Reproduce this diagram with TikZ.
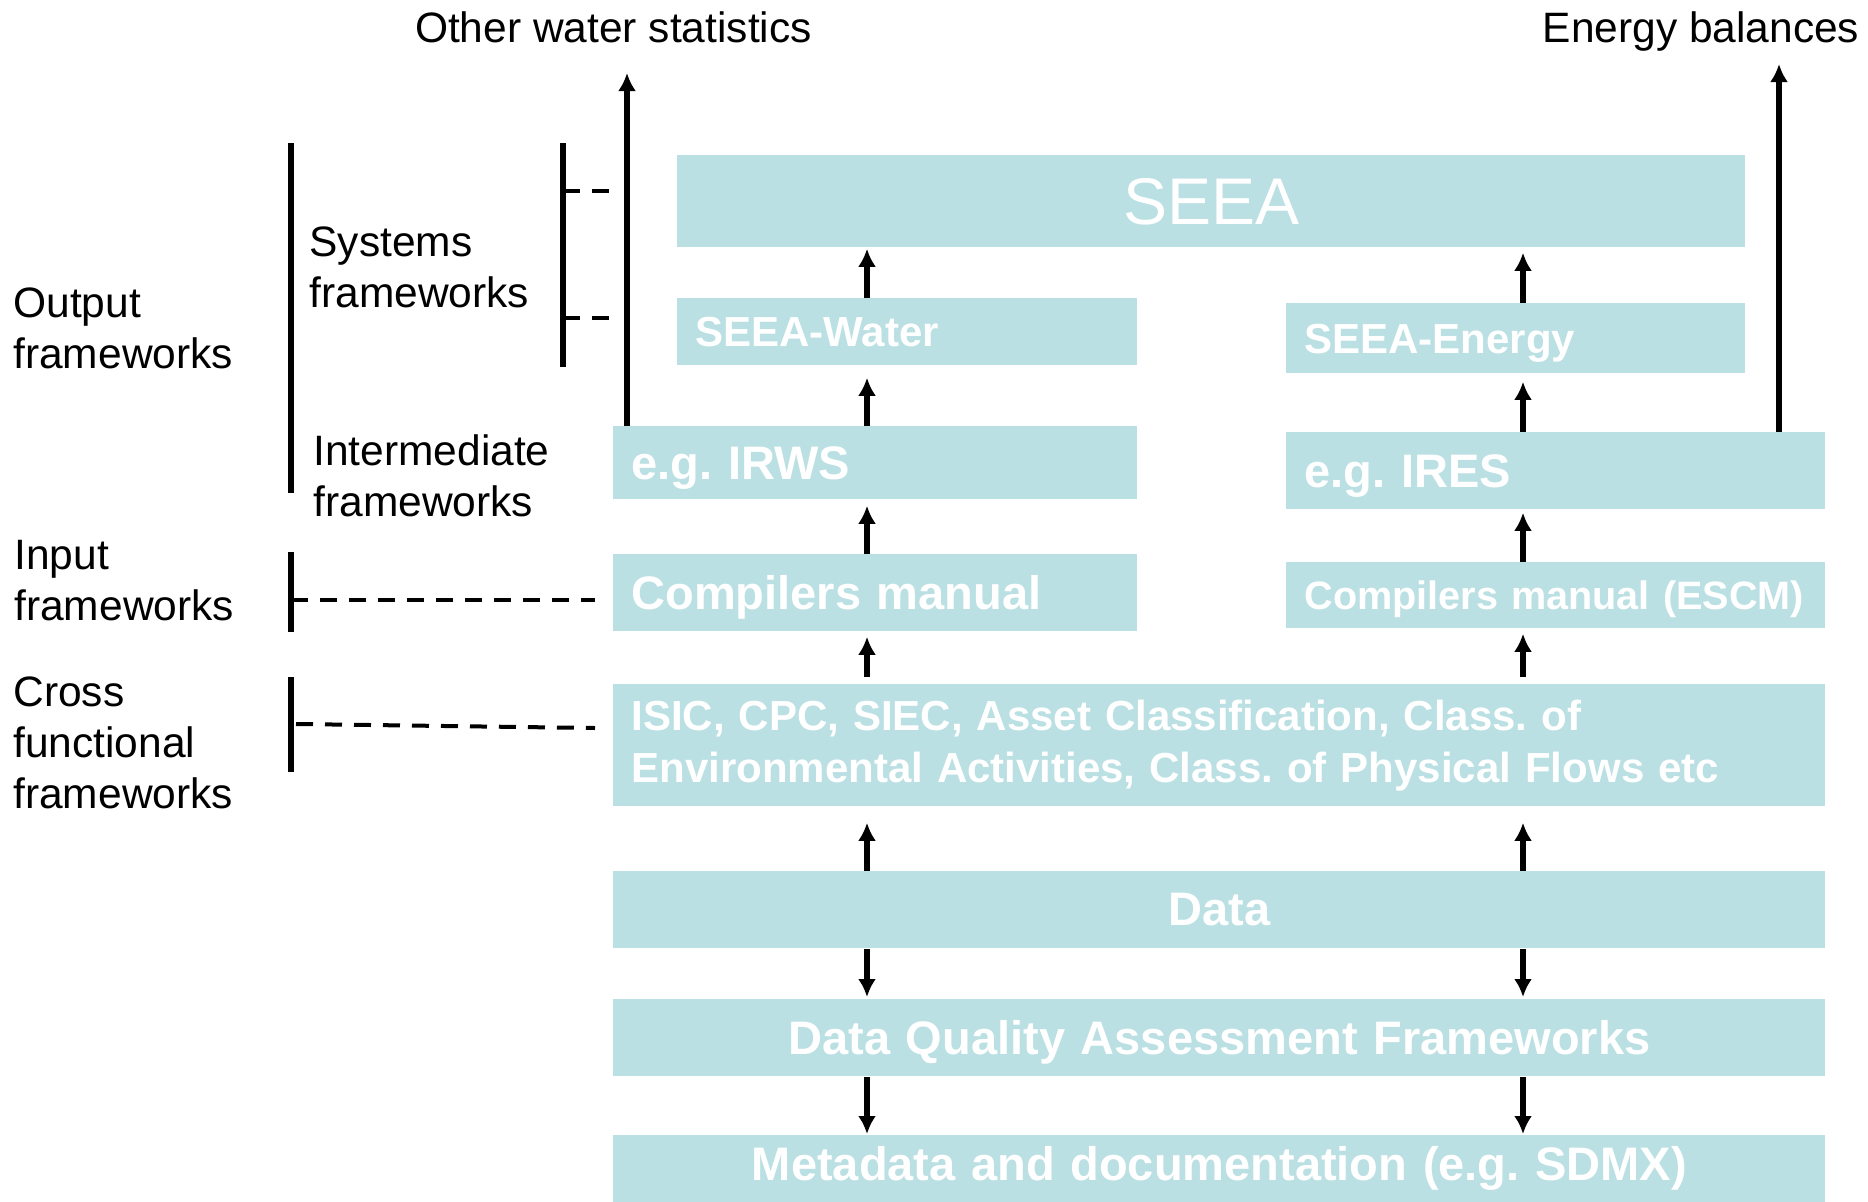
\documentclass[tikz,border=0pt]{standalone}
\usepackage{fontspec}
\setmainfont{Liberation Sans}
\frenchspacing
\usetikzlibrary{arrows.meta,calc}
\definecolor{boxteal}{RGB}{187,224,227}
\tikzset{
    fwbox/.style={fill=boxteal, text=white, inner xsep=9pt, inner ysep=0pt,
      anchor=north west, align=left, font=\bfseries\fontsize{23.5}{28}\selectfont},
    fwcap/.style={text depth=0pt},
    fwarrow/.style={line width=3pt, -{Latex[length=9pt,width=9pt]}, shorten >=#1},
    fwarrow/.default=1pt,
    fwbar/.style={line width=3pt},
    fwdash/.style={line width=2pt, dash pattern=on 8.5pt off 6pt},
    fwlabel/.style={inner sep=0pt, align=left, anchor=west,
      font=\fontsize{21.25}{25.5}\selectfont}
}

\begin{document}
\begin{tikzpicture}[x=0.5pt,y=-0.5pt]
    \useasboundingbox (0,0) rectangle (1868,1201);
    % boxes
    \node[fwbox, text width=516pt, minimum height=46pt, align=center,
      font=\fontsize{33}{40}\selectfont] (seea) at (677,155) {SEEA};
    \node[fwbox, text width=212pt, minimum height=33.5pt,
      font=\bfseries\fontsize{21}{26}\selectfont] (water) at (677,298) {SEEA-Water};
    \node[fwbox, fwcap, text width=211.5pt, minimum height=35pt,
      font=\bfseries\fontsize{21}{26}\selectfont] (energy) at (1286,303) {SEEA-Energy};
    \node[fwbox, fwcap, text width=244pt, minimum height=36.5pt] (irws) at (613,426) {e.g. IRWS};
    \node[fwbox, fwcap, text width=251.5pt, minimum height=38.5pt] (ires) at (1286,432) {e.g. IRES};
    \node[fwbox, fwcap, text width=244pt, minimum height=38.5pt] (compw) at (613,554) {Compilers manual};
    \node[fwbox, fwcap, text width=251.5pt, minimum height=33pt,
      font=\bfseries\fontsize{19.8}{24}\selectfont] (compe) at (1286,562) {Compilers manual (ESCM)};
    \node[fwbox, text width=588pt, minimum height=61pt,
      font=\bfseries\fontsize{21}{26}\selectfont] (isic) at (613,684)
      {ISIC, CPC, SIEC, Asset Classification, Class. of\\
       Environmental Activities, Class. of Physical Flows etc};
    \node[fwbox, text width=588pt, minimum height=38.5pt, align=center] (data) at (613,871) {Data};
    \node[fwbox, fwcap, text width=588pt, minimum height=38.5pt, align=center] (dqaf) at (613,999)
      {Data Quality Assessment Frameworks};
    \node[fwbox, text width=588pt, text height=22.5pt, text depth=16pt, align=center]
      (meta) at (613,1135) {Metadata and documentation (e.g. SDMX)};
    % arrows
    \coordinate (wc) at (867,0);
    \coordinate (ec) at (1523,0);
    \draw[fwarrow=0.5pt] (water.north -| wc) -- (seea.south -| wc);
    \draw[fwarrow=6pt] (irws.north -| wc) -- (water.south -| wc);
    \draw[fwarrow=3pt] (compw.north -| wc) -- (irws.south -| wc);
    \draw[fwarrow=2.5pt, shorten <=3.5pt] (isic.north -| wc) -- (compw.south -| wc);
    \draw[fwarrow=2.5pt] (energy.north -| ec) -- (seea.south -| ec);
    \draw[fwarrow=4pt] (ires.north -| ec) -- (energy.south -| ec);
    \draw[fwarrow=1.5pt] (compe.north -| ec) -- (ires.south -| ec);
    \draw[fwarrow=2.5pt, shorten <=3.5pt] (isic.north -| ec) -- (compe.south -| ec);
    \foreach \col in {wc,ec} {
      \draw[fwarrow=8pt] (data.north -| \col) -- (isic.south -| \col);
      \draw[fwarrow] (data.south -| \col) -- (dqaf.north -| \col);
      \draw[fwarrow=0.5pt] (dqaf.south -| \col) -- (meta.north -| \col);
    }
    \coordinate (owstip) at (627,73);
    \coordinate (ebtip) at (1779,64);
    \draw[fwarrow=0pt] (irws.north -| owstip) -- (owstip);
    \draw[fwarrow=0pt] (ires.north -| ebtip) -- (ebtip);
    \node[inner sep=0pt, anchor=base, font=\fontsize{21.25}{25.5}\selectfont]
      (owslbl) at (613.5,42) {Other water statistics};
    \node[inner sep=0pt, anchor=base, font=\fontsize{21.25}{25.5}\selectfont]
      (eblbl) at (1701,42) {Energy balances};
    % brackets
    \draw[fwbar] (291,143) -- (291,493);
    \draw[fwbar] (563,143) -- (563,367);
    \foreach \yy in {191,318} {
      \draw[fwdash] (563,\yy) -- (610,\yy);
    }
    \draw[fwbar] (291,552) -- (291,632);
    \draw[fwdash] (291,600) -- (595,600);
    \draw[fwbar] (291,677) -- (291,772);
    \draw[fwdash] (296,724) -- (595,728);
    % labels
    \node[fwlabel] (outfw) at (13,328) {Output\\frameworks};
    \node[fwlabel] (sysfw) at (309,267) {Systems\\frameworks};
    \node[fwlabel] (intfw) at (313,475.5) {Intermediate\\frameworks};
    \node[fwlabel] (inpfw) at (14,581) {Input\\frameworks};
    \node[fwlabel] (crossfw) at (13,743) {Cross\\functional\\frameworks};
\end{tikzpicture}
\end{document}
